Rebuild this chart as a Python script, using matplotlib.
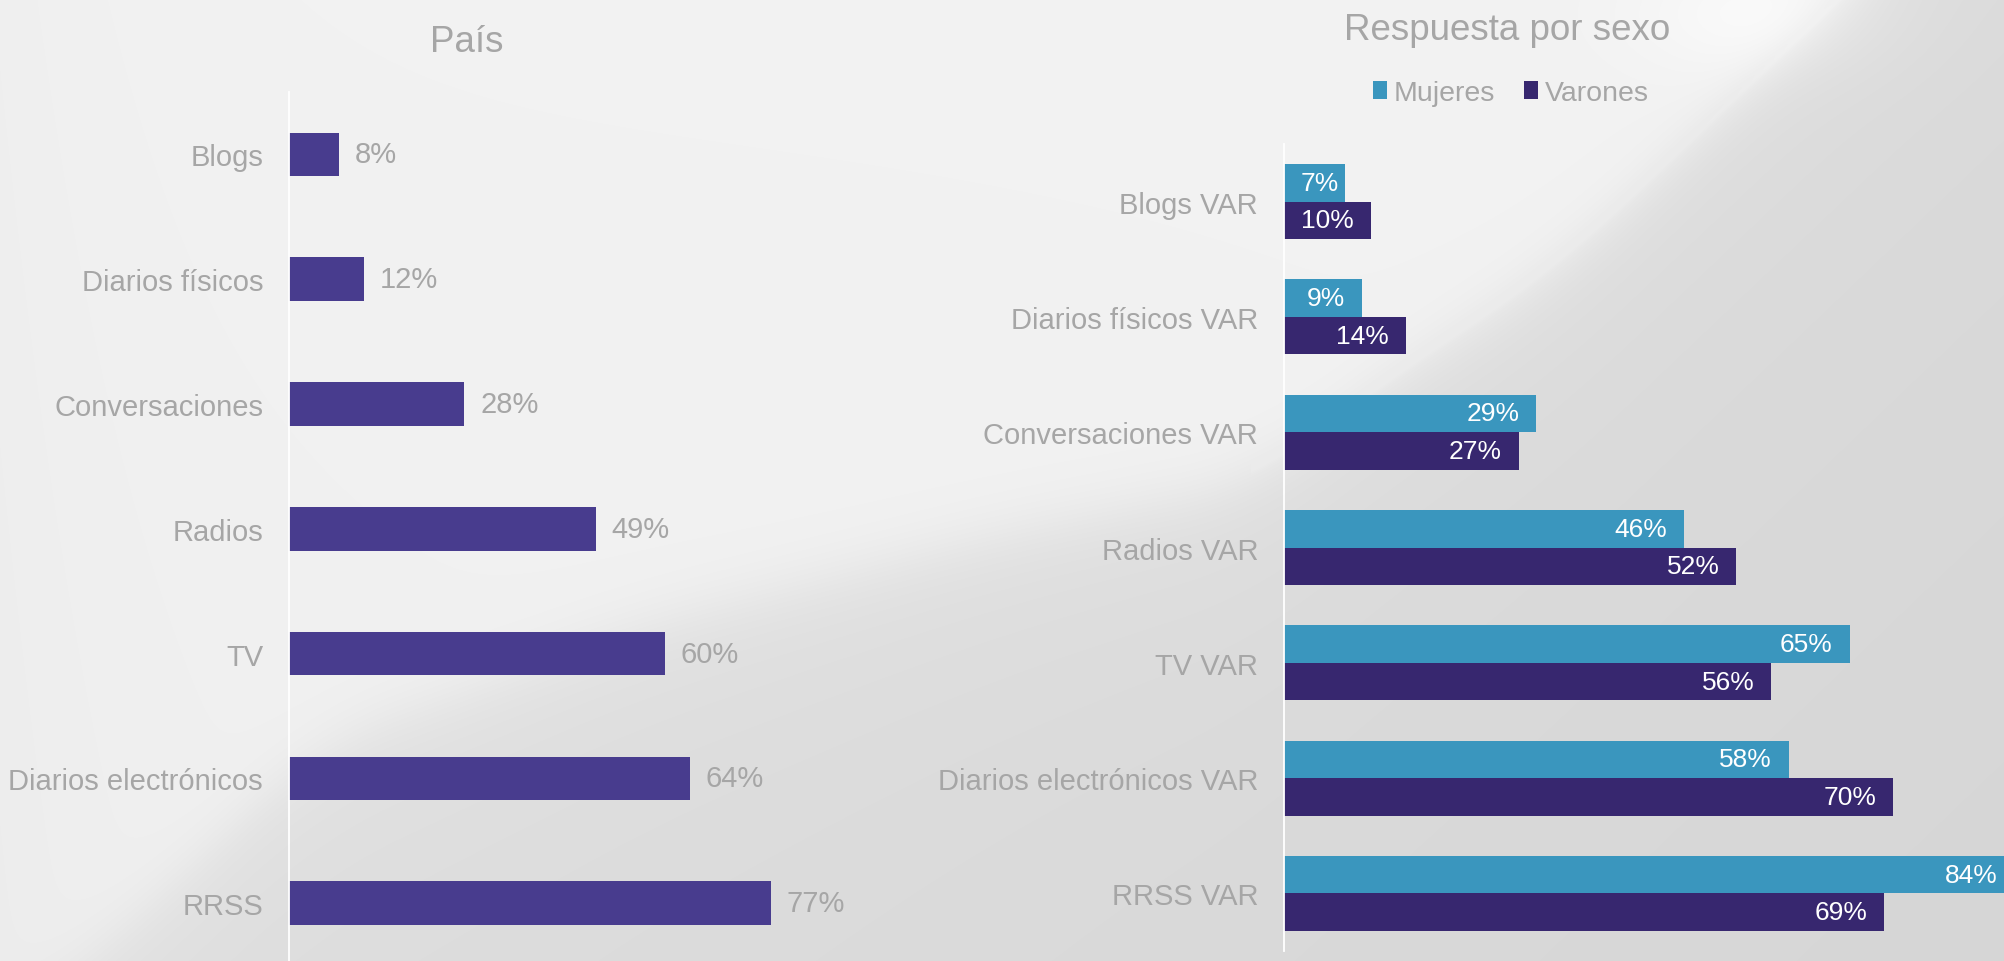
import numpy as np
import matplotlib
matplotlib.use("Agg")
import matplotlib.pyplot as plt
from matplotlib.patches import Patch

plt.rcParams['font.family'] = ['Liberation Sans', 'DejaVu Sans']

# ---------------- data ----------------
pais_categories = ['Blogs', 'Diarios físicos', 'Conversaciones', 'Radios', 'TV',
                   'Diarios electrónicos', 'RRSS']
pais_values = [8, 12, 28, 49, 60, 64, 77]

sexo_categories = ['Blogs VAR', 'Diarios físicos VAR', 'Conversaciones VAR', 'Radios VAR',
                   'TV VAR', 'Diarios electrónicos VAR', 'RRSS VAR']
mujeres_values = [7, 9, 29, 46, 65, 58, 84]
varones_values = [10, 14, 27, 52, 56, 70, 69]

title_left = 'País'
title_right = 'Respuesta por sexo'
series_names = ['Mujeres', 'Varones']

# ---------------- style ----------------
W, H = 2004, 962
GRAY = '#A6A6A6'
C_PAIS = '#483C8E'
C_MUJ = '#3A96BE'
C_VAR = '#37276F'

fig = plt.figure(figsize=(W / 100, H / 100), dpi=100)

# background (decorative light gray swoosh)
cx = np.array([-100, 77, 128, 319, 638, 1000, 1256, 1358, 1557, 1839, 2100])
cy = np.array([1100, 962, 920, 740, 622, 530, 480, 400, 267, 0, -250])
xline = np.arange(-300, W + 300)
cline = np.interp(xline, cx, cy)
kern = np.ones(161) / 161.0
cline = np.convolve(cline, kern, mode='same')
curve_row = cline[300:300 + W]
yy, xx = np.mgrid[0:H, 0:W].astype(float)
curve = np.broadcast_to(curve_row, (H, W))
d = yy - curve
t = 1.0 / (1.0 + np.exp(-d / 18.0))
light = 0.950 - 0.010 * (1 - xx / W) * (yy / H) - 0.012 * np.exp(-xx / 120.0)
dark = 0.885 - 0.03 * (xx / W) - 0.015 * (yy / H) + 0.025 * np.exp(-np.maximum(d, 0) / 120.0)
val = light * (1 - t) + dark * t
val = val + 0.008 * np.exp(-(d / 4.0) ** 2) * (xx > 1250)
hl = np.exp(-(((xx - 1760) / 120.0) ** 2 + ((yy - 15) / 60.0) ** 2))
val = val + 0.03 * hl
val = np.clip(val, 0, 1)
bg = fig.add_axes([0, 0, 1, 1], zorder=-10)
bg.imshow(np.dstack([val, val, val]), aspect='auto', extent=[0, 1, 0, 1],
          interpolation='bilinear')
bg.axis('off')

# ---------------- left chart ----------------
top1, band1 = 93.0, 124.8
h1 = band1 * 7
ax1 = fig.add_axes([289 / W, (H - top1 - h1) / H, 626 / W, h1 / H])
ax1.set_facecolor('none')
y1 = np.arange(len(pais_categories))
bars1 = ax1.barh(y1, pais_values, height=0.35, color=C_PAIS)
ax1.set_xlim(0, 100)
ax1.set_ylim(len(pais_categories) - 0.5, -0.5)
ax1.set_yticks(y1)
ax1.set_yticklabels(pais_categories, fontsize=21, color=GRAY)
ax1.tick_params(axis='y', length=0, pad=18.7)
ax1.set_xticks([])
for s in ['top', 'right', 'bottom']:
    ax1.spines[s].set_visible(False)
ax1.spines['left'].set_color('white')
ax1.spines['left'].set_linewidth(1.3)
ax1.bar_label(bars1, labels=[f'{v}%' for v in pais_values], padding=11.5,
              fontsize=21, color=GRAY)

fig.text(467 / W, 1 - 51.7 / H, title_left, ha='center', va='baseline',
         fontsize=26.5, color=GRAY)

# ---------------- right chart ----------------
top2, bot2 = 145.0, 952.0
ax2 = fig.add_axes([1284 / W, (H - bot2) / H, 870 / W, (bot2 - top2) / H])
ax2.set_facecolor('none')
y2 = np.arange(len(sexo_categories))
bh = 0.325
bars_m = ax2.barh(y2 - bh / 2, mujeres_values, height=bh, color=C_MUJ, label=series_names[0])
bars_v = ax2.barh(y2 + bh / 2, varones_values, height=bh, color=C_VAR, label=series_names[1])
ax2.set_xlim(0, 100)
ax2.set_ylim(len(sexo_categories) - 0.5, -0.5)
ax2.set_yticks(y2)
ax2.set_yticklabels(sexo_categories, fontsize=21, color=GRAY)
ax2.tick_params(axis='y', length=0, pad=18.7)
ax2.set_xticks([])
for s in ['top', 'right', 'bottom']:
    ax2.spines[s].set_visible(False)
ax2.spines['left'].set_color('white')
ax2.spines['left'].set_linewidth(1.3)

pad_pt = 12.2
texts = []
for vals, ys in [(mujeres_values, y2 - bh / 2), (varones_values, y2 + bh / 2)]:
    for v, yc in zip(vals, ys):
        tx = ax2.annotate(f'{v}%', xy=(v, yc), xytext=(-pad_pt, 0),
                          textcoords='offset points', ha='right', va='center',
                          fontsize=19, color='white')
        texts.append((tx, yc))

fig.canvas.draw()
renderer = fig.canvas.get_renderer()
axis_left_px = ax2.get_window_extent(renderer).x0
for tx, yc in texts:
    ext = tx.get_window_extent(renderer)
    if ext.x0 < axis_left_px + pad_pt * 100 / 72:
        tx.xy = (0, yc)
        tx.set_position((pad_pt, 0))
        tx.set_ha('left')

fig.text(1507 / W, 1 - 40 / H, title_right, ha='center', va='baseline',
         fontsize=26.5, color=GRAY)

handles = [Patch(facecolor=C_MUJ), Patch(facecolor=C_VAR)]
fig.legend(handles, series_names, loc='center', bbox_to_anchor=(1511 / W, 1 - 94 / H),
           ncol=2, frameon=False, fontsize=20.5, labelcolor=GRAY,
           handlelength=0.5, handleheight=0.55, handletextpad=0.25,
           columnspacing=1.0, borderaxespad=0)

fig.savefig('out.png', dpi=100)
